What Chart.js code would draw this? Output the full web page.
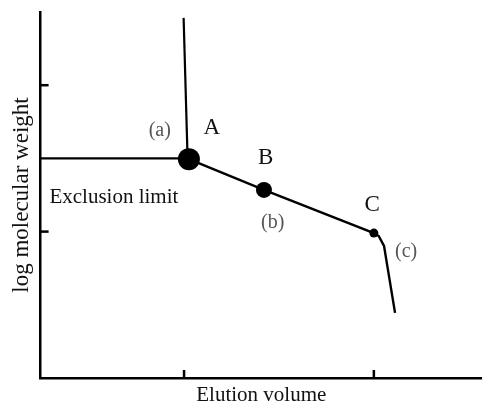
<!DOCTYPE html>
<html>
<head>
<meta charset="utf-8">
<script src="https://cdn.jsdelivr.net/npm/chart.js@4.4.1/dist/chart.umd.min.js"></script>
<style>
  html, body { margin: 0; padding: 0; background: #fff; }
  #wrap { width: 482px; height: 407px; }
</style>
</head>
<body>
<div id="wrap"><canvas id="myChart"></canvas></div>
<script>
// elution curve (arbitrary units)
const curveX = [33.6, 50.6, 75.5, 76.6, 77.8, 80.3];
const curveY = [59.8, 51.4, 39.6, 38.8, 36.1, 17.8];
const pointSizes = [11, 8, 4.5, 0, 0, 0];

// exclusion limit line and the vertical line at A
const exclX = [0, 33.5];
const exclY = [60, 60];
const vertX = [32.4, 33.3];
const vertY = [98.4, 60];

const xTicks = [32.5, 75.5];
const yTicks = [40, 80];

const toPts = (xs, ys) => xs.map((x, i) => ({ x: x, y: ys[i] }));

const serif = "'Liberation Serif', 'DejaVu Serif', serif";

// text labels in data coordinates
const labels = [
  { text: 'A', x: 38.8, y: 68.3, size: 23, color: '#111' },
  { text: '(a)', x: 27.0, y: 67.5, size: 20, color: '#555' },
  { text: 'B', x: 51.0, y: 60.1, size: 23, color: '#111' },
  { text: '(b)', x: 52.6, y: 42.3, size: 20, color: '#555' },
  { text: 'C', x: 75.1, y: 47.3, size: 23, color: '#111' },
  { text: '(c)', x: 82.8, y: 34.4, size: 20, color: '#555' },
  { text: 'Exclusion limit', x: 16.6, y: 49.3, size: 21, color: '#111' }
];

const innerTicks = {
  id: 'innerTicks',
  afterDraw(chart) {
    const c = chart.ctx, xs = chart.scales.x, ys = chart.scales.y;
    const a = chart.chartArea;
    c.save();
    c.strokeStyle = '#000';
    c.lineWidth = 2.5;
    xTicks.forEach(v => {
      const px = xs.getPixelForValue(v);
      c.beginPath(); c.moveTo(px, a.bottom); c.lineTo(px, a.bottom - 8); c.stroke();
    });
    yTicks.forEach(v => {
      const py = ys.getPixelForValue(v);
      c.beginPath(); c.moveTo(a.left, py); c.lineTo(a.left + 8, py); c.stroke();
    });
    c.restore();
  }
};

const textLabels = {
  id: 'textLabels',
  afterDatasetsDraw(chart) {
    const c = chart.ctx, xs = chart.scales.x, ys = chart.scales.y;
    c.save();
    c.textAlign = 'center';
    c.textBaseline = 'middle';
    labels.forEach(l => {
      c.font = l.size + 'px ' + serif;
      c.fillStyle = l.color;
      c.fillText(l.text, xs.getPixelForValue(l.x), ys.getPixelForValue(l.y));
    });
    c.restore();
  }
};

const ctx = document.getElementById('myChart').getContext('2d');

const myChart = new Chart(ctx, {
  type: 'scatter',
  data: {
    datasets: [
      {
        data: toPts(exclX, exclY),
        showLine: true,
        borderColor: '#000',
        borderWidth: 2.2,
        pointRadius: 0,
        clip: false
      },
      {
        data: toPts(vertX, vertY),
        showLine: true,
        borderColor: '#000',
        borderWidth: 2.2,
        pointRadius: 0,
        clip: false
      },
      {
        data: toPts(curveX, curveY),
        showLine: true,
        borderColor: '#000',
        borderWidth: 2.4,
        backgroundColor: '#000',
        pointBackgroundColor: '#000',
        pointBorderWidth: 0,
        pointRadius: pointSizes,
        clip: false
      }
    ]
  },
  options: {
    responsive: true,
    maintainAspectRatio: false,
    animation: false,
    layout: { autoPadding: false, padding: { left: 8, top: 12, right: 0, bottom: 0 } },
    plugins: {
      legend: { display: false },
      tooltip: { enabled: false }
    },
    scales: {
      x: {
        type: 'linear',
        min: 0, max: 100,
        grid: { display: false, drawTicks: false },
        border: { display: true, color: '#000', width: 2.5 },
        ticks: { display: false },
        title: {
          display: true,
          text: 'Elution volume',
          color: '#111',
          font: { family: serif, size: 21, lineHeight: 1 },
          padding: { top: 7, bottom: 1 }
        }
      },
      y: {
        type: 'linear',
        min: 0, max: 100,
        grid: { display: false, drawTicks: false },
        border: { display: true, color: '#000', width: 2.5 },
        ticks: { display: false },
        title: {
          display: true,
          text: 'log molecular weight',
          color: '#111',
          font: { family: serif, size: 23 },
          padding: { top: 0, bottom: 5 }
        }
      }
    }
  },
  plugins: [innerTicks, textLabels]
});
</script>
</body>
</html>
